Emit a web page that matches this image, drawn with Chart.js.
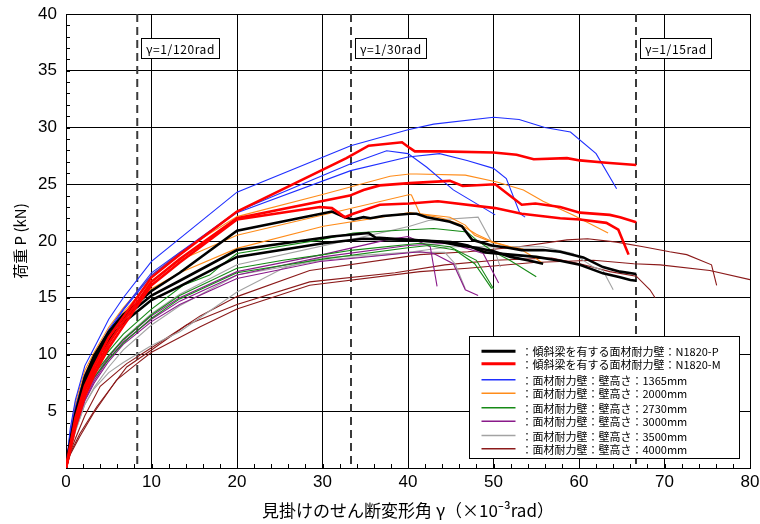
<!DOCTYPE html>
<html>
<head>
<meta charset="utf-8">
<script src="https://cdn.jsdelivr.net/npm/chart.js@4.4.1/dist/chart.umd.min.js"></script>
<style>
  html, body { margin: 0; padding: 0; background: #ffffff; }
  #wrap { width: 760px; height: 524px; }
</style>
</head>
<body>
<div id="wrap"><canvas id="c" width="760" height="524"></canvas></div>
<script>
// Load P (kN) versus apparent shear deformation angle γ (×10^-3 rad): [γ, P] pairs

// Walls with inclined beam, N1820-P
const n1820P_a = [[0,0],[0.5,2.3],[1.1,4.8],[2.2,8.0],[3.3,9.9],[5,12.0],[6.7,13.5],[10,15.6],[13.3,17.2],[20,20.9],[31.1,22.6],[32.6,22.1],[33.6,21.9],[34.8,22.1],[35.6,22.0],[37.1,22.2],[40.2,22.4],[41,22.4],[42.2,22.1],[44.9,21.7],[46.3,21.3],[47.5,20.1],[49.8,19.6],[51.7,19.4],[53.3,19.2],[55.8,19.2],[57.8,19.05],[60.5,18.55],[62.8,17.7],[64.8,17.3],[66.7,17.1]];
const n1820P_b = [[0,0],[0.5,2.2],[1.1,4.6],[2.2,7.7],[3.3,9.6],[5,11.7],[6.7,13.2],[10,15.2],[13.3,16.5],[20,19.2],[31.1,20.4],[35.4,20.7],[36.2,20.3],[40.2,20.1],[45,19.9],[47,19.6],[49,19.0],[52,18.8],[55,18.6],[57.8,18.26],[60.1,17.9],[62.8,17.15],[64.8,16.8],[66,16.56],[66.7,16.5]];
const n1820P_c = [[0,0],[0.5,2.1],[1.1,4.4],[2.2,7.5],[3.3,9.3],[5,11.3],[6.7,12.8],[10,14.8],[13.3,16.0],[20,18.6],[30.1,19.8],[34.8,20.2],[40.2,20.1],[44,19.9],[46,19.6],[48,19.4],[50,19.1],[52,18.6],[54,18.3],[55.8,18.0]];

// Walls with inclined beam, N1820-M
const n1820M_a = [[0,0],[0.5,2.0],[1.1,4.4],[2.2,7.2],[3.3,9.0],[5,11.5],[6.7,13.3],[10,16.8],[13.3,18.8],[20,22.6],[32.8,27.3],[35.4,28.4],[39.3,28.7],[40.2,28.2],[40.8,27.9],[43.7,27.9],[50,27.8],[52.7,27.6],[54.7,27.2],[58.6,27.3],[60.1,27.1],[63.2,26.9],[66.7,26.7]];
const n1820M_b = [[0,0],[0.5,1.8],[1.1,4.0],[2.2,6.8],[3.3,8.6],[5,11.0],[6.7,12.9],[10,16.4],[13.3,18.4],[20,22.0],[33.2,24.0],[34.8,24.5],[36.7,24.9],[40.2,25.1],[44.9,25.3],[46.4,24.85],[50.2,25.0],[53.3,23.2],[54.9,23.3],[57.8,23.0],[60.1,22.5],[63.6,22.3],[64.8,22.1],[66.7,21.65]];
const n1820M_c = [[0,0],[0.5,1.6],[1.1,3.6],[2.2,6.3],[3.3,8.2],[5,10.6],[6.7,12.5],[10,16.1],[13.3,18.1],[20,21.9],[29.7,23.0],[31.1,22.9],[32.6,22.1],[33.6,22.4],[36.7,23.2],[40.2,23.3],[43.5,23.5],[50.2,22.9],[53.3,22.4],[57.8,22.0],[60.1,21.9],[63.2,21.6],[64.6,21.0],[65.8,18.8]];

// Sheathed walls, wall height 1365 mm
const h1365_a = [[0,0],[0.5,3.5],[1.1,6.0],[2.2,9.0],[3.3,10.6],[5,13.1],[6.7,15.0],[10,18.2],[20,24.3],[33.3,28.4],[40,29.8],[43,30.3],[50,30.9],[53,30.7],[56,30.0],[59,29.6],[62,27.7],[64.4,24.6]];
const h1365_b = [[0,0],[0.5,3.0],[1.1,5.3],[2.2,8.2],[3.3,9.9],[5,12.2],[6.7,14.0],[10,17.2],[13.3,19.0],[20,22.6],[33.3,26.8],[37.5,27.95],[40,27.7],[42.2,26.5],[45.3,24.5],[50.2,22.3]];
const h1365_c = [[0,0],[0.5,3.0],[1.1,5.2],[2.2,8.0],[3.3,9.8],[5,12.0],[6.7,13.9],[10,17.0],[13.3,18.9],[20,22.5],[33.3,26.2],[40,27.4],[43.7,27.7],[46.9,27.1],[50,26.4],[51.5,25.5],[53.1,22.4],[53.7,22.1]];

// Sheathed walls, wall height 2000 mm
const h2000_a = [[0,0],[0.5,3.2],[1.1,5.8],[2.2,8.6],[3.3,10.2],[5,12.4],[6.7,14.1],[10,17.0],[13.3,19.0],[20,22.15],[30,24.1],[37.9,25.7],[40.2,25.9],[41,25.9],[46.7,25.8],[50.4,25.2],[53.5,24.5],[55.8,23.5],[59.3,22.3],[63.4,20.7]];
const h2000_b = [[0,0],[0.5,3.0],[1.1,5.5],[2.2,8.3],[3.3,9.9],[5,12.0],[6.7,13.7],[10,16.5],[13.3,18.3],[20,20.5],[40.2,24.1],[40.4,24.05],[41.4,22.4],[44.9,22.1],[46.7,21.4],[47.8,20.5],[49.8,19.9],[51.3,19.6],[53.3,19.2],[54.9,18.5],[55.8,18.0]];
const h2000_c = [[0,0],[0.5,2.8],[1.1,5.2],[2.2,8.0],[3.3,9.6],[5,11.6],[6.7,13.2],[10,15.8],[13.3,17.2],[20,19.35],[30.1,21.3],[40.2,22.5],[42,22.3],[44,22.0],[46,21.5],[48,20.6],[50,19.9],[52,19.5],[53.5,19.3]];

// Sheathed walls, wall height 2730 mm
const h2730_a = [[0,0],[0.5,2.5],[1.1,4.6],[2.2,7.2],[3.3,8.7],[5,10.3],[6.7,11.8],[10,14.0],[13.7,16.1],[16.8,17.0],[18.4,18.0],[20,18.9],[29.7,20.1],[33.6,20.7],[39,20.95],[43,21.1],[46.9,20.8],[48,20.1],[50,19.05],[51.9,18.3],[55,16.85]];
const h2730_b = [[0,0],[0.5,2.3],[1.1,4.3],[2.2,6.8],[3.3,8.3],[5,9.9],[6.7,11.3],[10,13.5],[13.3,15.2],[20,17.6],[25.4,18.3],[30.1,18.8],[33.6,19.2],[41.4,19.8],[44.9,19.5],[48,18.3],[50,15.8]];
const h2730_c = [[0,0],[0.5,2.2],[1.1,4.1],[2.2,6.5],[3.3,8.0],[5,9.6],[6.7,11.0],[10,13.2],[13.3,14.9],[20,17.2],[30,18.4],[40,19.4],[42.4,19.6],[45.5,19.2],[47.8,18.0],[49.8,15.8]];

// Sheathed walls, wall height 3000 mm
const h3000_a = [[0,0],[0.5,1.9],[1.1,3.7],[2.2,6.2],[3.3,7.9],[5,9.8],[6.7,11.3],[10,13.4],[13.3,15.0],[20,17.3],[30,18.8],[37.5,20.1],[40,20.4],[42.6,19.5],[43.4,16.0]];
const h3000_b = [[0,0],[0.5,1.8],[1.1,3.5],[2.2,5.9],[3.3,7.5],[5,9.4],[6.7,10.9],[10,12.9],[13.3,14.4],[20,16.7],[29.7,18.2],[41.4,19.05],[43,18.9],[45.3,18.0],[46.7,15.7],[48.2,15.2]];
const h3000_c = [[0,0],[0.5,1.85],[1.1,3.6],[2.2,6.0],[3.3,7.7],[5,9.6],[6.7,11.1],[10,13.1],[13.3,14.7],[20,17.0],[30,18.6],[40,19.6],[44.9,19.8],[48.8,18.9],[50.6,16.3]];

// Sheathed walls, wall height 3500 mm
const h3500_a = [[0,0],[0.5,2.0],[1.1,3.9],[2.2,6.4],[3.3,8.0],[5,9.9],[6.7,11.4],[10,13.6],[13.3,15.3],[20,17.9],[33.2,20.1],[40.2,21.3],[42.4,21.8],[48.2,22.1],[49.8,19.9],[50.8,17.7]];
const h3500_b = [[0,0],[0.5,1.7],[1.1,3.3],[2.2,5.6],[3.3,7.1],[5,8.9],[6.7,10.4],[10,12.6],[13.3,14.3],[20,17.0],[30,18.3],[39,18.9],[44.9,19.5],[55.8,19.5],[59.3,18.9],[61.7,17.7],[62.8,17.4],[64,15.7]];
const h3500_c = [[0,0],[0.5,1.6],[1.1,3.2],[2.2,5.6],[3.3,7.0],[5,8.4],[6.7,9.3],[10,10.8],[13.3,12.0],[20,15.5],[25.4,17.6],[29.7,18.5],[40,19.0],[44.3,19.0],[45.5,18.0],[46.7,15.8]];

// Sheathed walls, wall height 4000 mm
const h4000_a = [[0,0],[0.5,1.4],[1.1,2.6],[2.2,4.6],[4,7.2],[7.1,9.2],[10,10.6],[13.3,12.2],[15.7,13.4],[20,15.1],[28.5,17.4],[41.4,18.8],[47,19.05],[53,19.5],[58.6,20.1],[61,20.2],[64.4,19.9],[67.5,19.5],[70.6,19.05],[72.6,18.8],[75.5,17.9],[76.1,16.1]];
const h4000_b = [[0,0],[0.5,1.2],[1.6,2.76],[3.2,4.8],[5.9,7.75],[8.3,9.2],[10,10.2],[15.7,12.45],[20,14.0],[28.5,16.1],[41.4,17.3],[47,17.6],[54.7,18.1],[61.7,18.3],[66.4,18.0],[69.5,17.9],[75.3,17.4],[80,16.6]];
const h4000_c = [[0,0],[0.5,1.3],[1.6,3.0],[3.6,5.4],[7.1,8.9],[10,10.4],[14.1,12.6],[20,14.4],[28.5,16.4],[38.5,17.2],[44.3,17.9],[50.2,18.3],[56.8,18.5],[60.1,18.0],[63.6,17.3],[66.7,16.9],[68.3,15.7],[68.9,15.0]];

// Axis ticks
const xTickValues = [0, 10, 20, 30, 40, 50, 60, 70, 80];
const yTickValues = [0, 5, 10, 15, 20, 25, 30, 35, 40];

// Drift-angle reference lines (×10^-3 rad) and their captions
const gammaLimits = [1000 / 120, 1000 / 30, 1000 / 15];
const gammaLabels = ['γ=1/120rad', 'γ=1/30rad', 'γ=1/15rad'];

// Series groups in legend order
const seriesGroups = [
  { label: '：傾斜梁を有する面材耐力壁：N1820-P', color: '#000000', width: 2.6, curves: [n1820P_a, n1820P_b, n1820P_c] },
  { label: '：傾斜梁を有する面材耐力壁：N1820-M', color: '#ff0000', width: 2.6, curves: [n1820M_a, n1820M_b, n1820M_c] },
  { label: '：面材耐力壁：壁高さ：1365mm', color: '#1f2fff', width: 1.1, curves: [h1365_a, h1365_b, h1365_c] },
  { label: '：面材耐力壁：壁高さ：2000mm', color: '#ff8c1a', width: 1.1, curves: [h2000_a, h2000_b, h2000_c] },
  { label: '：面材耐力壁：壁高さ：2730mm', color: '#168a16', width: 1.1, curves: [h2730_a, h2730_b, h2730_c] },
  { label: '：面材耐力壁：壁高さ：3000mm', color: '#8a1a8a', width: 1.1, curves: [h3000_a, h3000_b, h3000_c] },
  { label: '：面材耐力壁：壁高さ：3500mm', color: '#a3a3a3', width: 1.1, curves: [h3500_a, h3500_b, h3500_c] },
  { label: '：面材耐力壁：壁高さ：4000mm', color: '#8b1a1a', width: 1.1, curves: [h4000_a, h4000_b, h4000_c] }
];

// Index 0 is painted last, so the heavy N1820 curves go first to sit on top
const drawOrder = [1, 0, 2, 3, 4, 5, 6, 7];
const datasets = [];
drawOrder.forEach(gi => {
  const g = seriesGroups[gi];
  g.curves.forEach(c => {
    datasets.push({
      data: c.map(p => ({ x: p[0], y: p[1] })),
      borderColor: g.color,
      borderWidth: g.width,
      showLine: true,
      pointRadius: 0,
      tension: 0,
      fill: false
    });
  });
});

const CJK = '"Noto Sans CJK JP", "Noto Sans", sans-serif';
const LATIN = '"Liberation Sans", Arial, sans-serif';

const decorPlugin = {
  id: 'decor',
  beforeDatasetsDraw(chart) {
    const { ctx, chartArea: a, scales: { x, y } } = chart;
    ctx.save();
    // inward minor ticks on the left and bottom axes
    ctx.strokeStyle = '#000';
    ctx.lineWidth = 1;
    ctx.beginPath();
    for (let v = 2; v < 80; v += 2) {
      const px = Math.round(x.getPixelForValue(v)) + 0.5;
      ctx.moveTo(px, a.bottom);
      ctx.lineTo(px, a.bottom - 4);
    }
    for (let v = 1; v < 40; v += 1) {
      const py = Math.round(y.getPixelForValue(v)) + 0.5;
      ctx.moveTo(a.left, py);
      ctx.lineTo(a.left + 4, py);
    }
    ctx.stroke();
    // dashed drift-angle lines
    ctx.strokeStyle = '#3a3a3a';
    ctx.lineWidth = 2;
    ctx.setLineDash([8, 5]);
    gammaLimits.forEach(g => {
      const px = x.getPixelForValue(g);
      ctx.beginPath();
      ctx.moveTo(px, a.top);
      ctx.lineTo(px, a.bottom);
      ctx.stroke();
    });
    ctx.restore();
  },
  afterDatasetsDraw(chart) {
    const { ctx, chartArea: a, scales: { x } } = chart;
    ctx.save();
    // captions of the drift-angle lines
    ctx.font = '12px ' + CJK;
    ctx.letterSpacing = '0.6px';
    ctx.textBaseline = 'middle';
    gammaLimits.forEach((g, i) => {
      const px = x.getPixelForValue(g);
      const w = Math.round(ctx.measureText(gammaLabels[i]).width + 9);
      const bx = Math.round(px + 4) + 0.5, by = a.top + 24.5, bh = 20;
      ctx.fillStyle = '#fff';
      ctx.fillRect(bx, by, w, bh);
      ctx.strokeStyle = '#000';
      ctx.lineWidth = 1;
      ctx.strokeRect(bx, by, w, bh);
      ctx.fillStyle = '#000';
      ctx.fillText(gammaLabels[i], bx + 4.5, by + bh / 2 + 1);
    });
    // legend box
    const lx = Math.round(a.right - 281) + 0.5, ly = Math.round(a.bottom - 132) + 0.5;
    const lw = 270, lh = 122;
    ctx.fillStyle = '#fff';
    ctx.fillRect(lx, ly, lw, lh);
    ctx.strokeStyle = '#000';
    ctx.lineWidth = 1;
    ctx.strokeRect(lx, ly, lw, lh);
    const rowY = [14.7, 27.3, 43.3, 56.7, 71.3, 84.7, 99, 112.3];
    ctx.font = '11px ' + CJK;
    ctx.letterSpacing = '0px';
    ctx.textBaseline = 'middle';
    seriesGroups.forEach((g, i) => {
      const ry = ly + rowY[i];
      ctx.strokeStyle = g.color;
      ctx.lineWidth = g.width > 2 ? 3 : 1.5;
      ctx.beginPath();
      ctx.moveTo(lx + 12, ry);
      ctx.lineTo(lx + 46, ry);
      ctx.stroke();
      ctx.fillStyle = '#000';
      ctx.fillText(g.label, lx + 52, ry + 1);
    });
    ctx.restore();
  }
};

new Chart(document.getElementById('c'), {
  type: 'scatter',
  data: { datasets },
  options: {
    responsive: false,
    animation: false,
    events: [],
    devicePixelRatio: 1,
    layout: { padding: { top: 14, right: 10, left: 0, bottom: 0 } },
    plugins: { legend: { display: false }, tooltip: { enabled: false } },
    scales: {
      x: {
        type: 'linear', min: 0, max: 80,
        afterBuildTicks: s => { s.ticks = xTickValues.map(v => ({ value: v })); },
        afterFit: s => { s.height = 56; s.paddingLeft = 0; s.paddingRight = 0; },
        grid: { color: '#000', lineWidth: 1, drawTicks: false },
        border: { color: '#000', width: 1 },
        ticks: { color: '#000', padding: 4, font: { family: LATIN, size: 17 }, maxRotation: 0 },
        title: {
          display: true,
          text: '見掛けのせん断変形角 γ（×10⁻³rad）',
          color: '#000',
          font: { family: CJK, size: 17 },
          padding: { top: 0, bottom: 3 }
        }
      },
      y: {
        type: 'linear', min: 0, max: 40,
        afterBuildTicks: s => { s.ticks = yTickValues.map(v => ({ value: v })); },
        afterFit: s => { s.width = 66; s.paddingTop = 0; s.paddingBottom = 0; },
        grid: { color: '#000', lineWidth: 1, drawTicks: false },
        border: { color: '#000', width: 1 },
        ticks: {
          color: '#000', padding: 9, font: { family: LATIN, size: 17 },
          callback: v => (v === 0 ? '' : String(v))
        },
        title: {
          display: true,
          text: '荷重 P (kN)',
          color: '#000',
          font: { family: CJK, size: 15 },
          padding: { top: 11, bottom: 0 }
        }
      }
    }
  },
  plugins: [decorPlugin]
});
</script>
</body>
</html>
